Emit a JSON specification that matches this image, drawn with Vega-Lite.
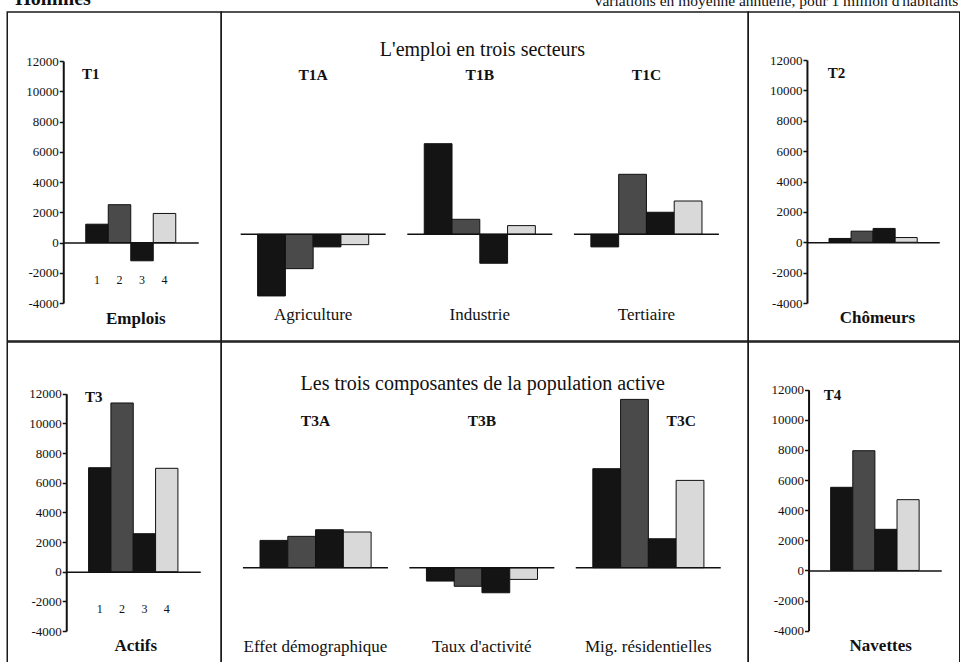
{
  "$schema": "https://vega.github.io/schema/vega-lite/v6.json",
  "background": "white",
  "padding": {"left": 6.25, "top": 0, "right": 0, "bottom": 0},
  "spacing": -1.5,
  "config": {
    "view": {"stroke": "#1a1a1a", "strokeWidth": 1.5},
    "font": "Liberation Serif",
    "concat": {"spacing": 0},
    "axis": {"labelFont": "Liberation Serif", "titleFont": "Liberation Serif", "labelColor": "#111", "titleColor": "#111", "domainColor": "#111", "tickColor": "#111", "grid": false},
    "bar": {"stroke": "#111", "strokeWidth": 1},
    "text": {"font": "Liberation Serif", "color": "#111"}
  },
  "vconcat": [
    {
      "width": 953, "height": 11.75,
      "view": {"stroke": null},
      "data": {"values": [
        {"side": "left", "label": "Hommes"},
        {"side": "right", "label": "Variations en moyenne annuelle, pour 1 million d'habitants"}
      ]},
      "layer": [
        {
          "transform": [{"filter": "datum.side == 'left'"}],
          "mark": {"type": "text", "align": "left", "baseline": "alphabetic", "font": "Liberation Serif", "fontSize": 20, "fontWeight": "bold", "clip": true, "dy": -1},
          "encoding": {
            "x": {"field": "side", "type": "nominal", "scale": {"type": "point", "domain": ["left", "right"], "range": [8, 951], "padding": 0}, "axis": null},
            "text": {"field": "label"}
          }
        },
        {
          "transform": [{"filter": "datum.side == 'right'"}],
          "mark": {"type": "text", "align": "right", "baseline": "alphabetic", "font": "Liberation Serif", "fontSize": 15.5, "clip": true, "dy": 0},
          "encoding": {
            "x": {"field": "side", "type": "nominal", "axis": null},
            "text": {"field": "label"}
          }
        }
      ]
    },
    {
      "hconcat": [
        {
          "width": 214, "height": 329,
          "data": {"values": [
            {"bar": "1", "value": 1210}, {"bar": "2", "value": 2500}, {"bar": "3", "value": -1210}, {"bar": "4", "value": 1920}
          ]},
          "mark": {"type": "bar"},
          "encoding": {
            "x": {"field": "bar", "type": "nominal",
              "scale": {"range": [56, 191], "paddingInner": 0, "paddingOuter": 1.5},
              "axis": {"orient": "bottom", "offset": -98.5, "domainWidth": 1.5, "ticks": false, "labelAngle": 0, "labelPadding": 36.5, "labelBaseline": "middle", "labelFont": "Liberation Serif", "labelFontSize": 12,
                "title": "Emplois", "titleX": 128, "titleY": 75.5, "titleBaseline": "middle", "titleAlign": "center", "titleAnchor": null, "titleFont": "Liberation Serif", "titleFontSize": 17, "titleFontWeight": "bold"}},
            "y": {"field": "value", "type": "quantitative",
              "scale": {"domain": [-4000, 12000], "range": [291, 49], "nice": false},
              "axis": {"orient": "left", "offset": -56, "values": [-4000, -2000, 0, 2000, 4000, 6000, 8000, 10000, 12000], "labelExpr": "'' + datum.value", "tickSize": 4, "tickWidth": 1.5, "domainWidth": 2, "labelPadding": 1, "labelFont": "Liberation Serif", "labelFontSize": 13,
                "title": "T1", "titleAngle": 0, "titleX": 27, "titleY": 61.7, "titleAlign": "center", "titleBaseline": "middle", "titleFont": "Liberation Serif", "titleFontSize": 15, "titleFontWeight": "bold"}},
            "color": {"field": "bar", "type": "nominal", "scale": {"domain": ["1", "2", "3", "4"], "range": ["#141414", "#4a4a4a", "#141414", "#d9d9d9"]}, "legend": null}
          }
        },
        {
          "width": 527, "height": 329,
          "layer": [
            {
              "data": {"values": [
                {"sector": "Agriculture", "bar": "1", "value": -4110},
                {"sector": "Agriculture", "bar": "2", "value": -2290},
                {"sector": "Agriculture", "bar": "3", "value": -840},
                {"sector": "Agriculture", "bar": "4", "value": -690},
                {"sector": "Industrie", "bar": "1", "value": 6040},
                {"sector": "Industrie", "bar": "2", "value": 1000},
                {"sector": "Industrie", "bar": "3", "value": -1930},
                {"sector": "Industrie", "bar": "4", "value": 580},
                {"sector": "Tertiaire", "bar": "1", "value": -840},
                {"sector": "Tertiaire", "bar": "2", "value": 4000},
                {"sector": "Tertiaire", "bar": "3", "value": 1470},
                {"sector": "Tertiaire", "bar": "4", "value": 2220}
              ]},
              "mark": {"type": "bar"},
              "encoding": {
                "x": {"field": "sector", "type": "nominal",
                  "scale": {"domain": ["Agriculture", "Industrie", "Tertiaire"], "range": [8.6, 508.5], "paddingInner": 0, "paddingOuter": 0},
                  "axis": {"orient": "bottom", "offset": -27, "domain": false, "ticks": false, "labelAngle": 0, "labelPadding": 0, "labelBaseline": "middle", "labelFont": "Liberation Serif", "labelFontSize": 17, "title": null}},
                "xOffset": {"field": "bar", "type": "nominal", "scale": {"paddingInner": 0, "paddingOuter": 2}},
                "y": {"field": "value", "type": "quantitative", "scale": {"domain": [-4000, 12000], "range": [282.3, 42.3], "nice": false}, "axis": null},
                "color": {"field": "bar", "type": "nominal", "legend": null}
              }
            },
            {
              "data": {"values": [{"sector": "Agriculture"}, {"sector": "Industrie"}, {"sector": "Tertiaire"}]},
              "mark": {"type": "tick", "size": 145, "thickness": 1.5, "color": "#111", "opacity": 1},
              "encoding": {
                "x": {"field": "sector", "type": "nominal",
                  "axis": {"orient": "top", "offset": -62, "domain": false, "ticks": false, "labelAngle": 0, "labelPadding": 0, "labelBaseline": "middle", "labelFont": "Liberation Serif", "labelFontSize": 15.5, "labelFontWeight": "bold",
                    "labelExpr": "datum.value == 'Agriculture' ? 'T1A' : datum.value == 'Industrie' ? 'T1B' : 'T1C'",
                    "title": "L'emploi en trois secteurs", "titleX": 260.7, "titleY": -25, "titleBaseline": "middle", "titleAlign": "center", "titleAnchor": null, "titleFont": "Liberation Serif", "titleFontSize": 20, "titleFontWeight": "normal"}},
                "y": {"datum": 0, "type": "quantitative"}
              }
            }
          ],
          "resolve": {"axis": {"x": "independent"}}
        },
        {
          "width": 211.5, "height": 329,
          "data": {"values": [
            {"bar": "1", "value": 250}, {"bar": "2", "value": 730}, {"bar": "3", "value": 910}, {"bar": "4", "value": 310}
          ]},
          "mark": {"type": "bar"},
          "encoding": {
            "x": {"field": "bar", "type": "nominal",
              "scale": {"range": [58.7, 191], "paddingInner": 0, "paddingOuter": 1.42},
              "axis": {"orient": "bottom", "offset": -98.75, "domainWidth": 1.5, "ticks": false, "labels": false,
                "title": "Chômeurs", "titleX": 128.7, "titleY": 74.75, "titleBaseline": "middle", "titleAlign": "center", "titleAnchor": null, "titleFont": "Liberation Serif", "titleFontSize": 17, "titleFontWeight": "bold"}},
            "y": {"field": "value", "type": "quantitative",
              "scale": {"domain": [-4000, 12000], "range": [291, 48], "nice": false},
              "axis": {"orient": "left", "offset": -58.7, "values": [-4000, -2000, 0, 2000, 4000, 6000, 8000, 10000, 12000], "labelExpr": "'' + datum.value", "tickSize": 4, "tickWidth": 1.5, "domainWidth": 2, "labelPadding": 1, "labelFont": "Liberation Serif", "labelFontSize": 13,
                "title": "T2", "titleAngle": 0, "titleX": 29, "titleY": 60.7, "titleAlign": "center", "titleBaseline": "middle", "titleFont": "Liberation Serif", "titleFontSize": 15, "titleFontWeight": "bold"}},
            "color": {"field": "bar", "type": "nominal", "legend": null}
          }
        }
      ],
      "bounds": "flush",
      "spacing": 0
    },
    {
      "hconcat": [
        {
          "width": 214, "height": 321.25,
          "data": {"values": [
            {"bar": "1", "value": 7010}, {"bar": "2", "value": 11375}, {"bar": "3", "value": 2560}, {"bar": "4", "value": 6970}
          ]},
          "mark": {"type": "bar"},
          "encoding": {
            "x": {"field": "bar", "type": "nominal",
              "scale": {"range": [59, 193], "paddingInner": 0, "paddingOuter": 1.44},
              "axis": {"orient": "bottom", "offset": -91.55, "domainWidth": 1.5, "ticks": false, "labelAngle": 0, "labelPadding": 37, "labelBaseline": "middle", "labelFont": "Liberation Serif", "labelFontSize": 12,
                "title": "Actifs", "titleX": 128, "titleY": 73.3, "titleBaseline": "middle", "titleAlign": "center", "titleAnchor": null, "titleFont": "Liberation Serif", "titleFontSize": 17, "titleFontWeight": "bold"}},
            "y": {"field": "value", "type": "quantitative",
              "scale": {"domain": [-4000, 12000], "range": [289, 51.7], "nice": false},
              "axis": {"orient": "left", "offset": -59, "values": [-4000, -2000, 0, 2000, 4000, 6000, 8000, 10000, 12000], "labelExpr": "'' + datum.value", "tickSize": 4, "tickWidth": 1.5, "domainWidth": 2, "labelPadding": 1, "labelFont": "Liberation Serif", "labelFontSize": 13,
                "title": "T3", "titleAngle": 0, "titleX": 27, "titleY": 54, "titleAlign": "center", "titleBaseline": "middle", "titleFont": "Liberation Serif", "titleFontSize": 15, "titleFontWeight": "bold"}},
            "color": {"field": "bar", "type": "nominal", "legend": null}
          }
        },
        {
          "width": 527, "height": 321.25,
          "layer": [
            {
              "data": {"values": [
                {"sector": "Effet démographique", "bar": "1", "value": 1820},
                {"sector": "Effet démographique", "bar": "2", "value": 2090},
                {"sector": "Effet démographique", "bar": "3", "value": 2530},
                {"sector": "Effet démographique", "bar": "4", "value": 2380},
                {"sector": "Taux d'activité", "bar": "1", "value": -890},
                {"sector": "Taux d'activité", "bar": "2", "value": -1240},
                {"sector": "Taux d'activité", "bar": "3", "value": -1670},
                {"sector": "Taux d'activité", "bar": "4", "value": -780},
                {"sector": "Mig. résidentielles", "bar": "1", "value": 6600},
                {"sector": "Mig. résidentielles", "bar": "2", "value": 11220},
                {"sector": "Mig. résidentielles", "bar": "3", "value": 1930},
                {"sector": "Mig. résidentielles", "bar": "4", "value": 5820}
              ]},
              "mark": {"type": "bar"},
              "encoding": {
                "x": {"field": "sector", "type": "nominal",
                  "scale": {"domain": ["Effet démographique", "Taux d'activité", "Mig. résidentielles"], "range": [11, 510.2], "paddingInner": 0, "paddingOuter": 0},
                  "axis": {"orient": "bottom", "offset": -17.25, "domain": false, "ticks": false, "labelAngle": 0, "labelPadding": 0, "labelBaseline": "middle", "labelFont": "Liberation Serif", "labelFontSize": 17, "title": null}},
                "xOffset": {"field": "bar", "type": "nominal", "scale": {"paddingInner": 0, "paddingOuter": 2}},
                "y": {"field": "value", "type": "quantitative", "scale": {"domain": [-4000, 12000], "range": [285.7, 45.7], "nice": false}, "axis": null},
                "color": {"field": "bar", "type": "nominal", "legend": null}
              }
            },
            {
              "data": {"values": [{"sector": "Effet démographique"}, {"sector": "Taux d'activité"}, {"sector": "Mig. résidentielles"}]},
              "mark": {"type": "tick", "size": 145, "thickness": 1.5, "color": "#111", "opacity": 1},
              "encoding": {
                "x": {"field": "sector", "type": "nominal",
                  "axis": {"orient": "top", "offset": -78, "domain": false, "ticks": false, "labelAngle": 0, "labelPadding": 0, "labelBaseline": "middle", "labelFont": "Liberation Serif", "labelFontSize": 15.5, "labelFontWeight": "bold",
                    "labelOffset": {"condition": {"test": "datum.value == 'Mig. résidentielles'", "value": 33}, "value": 0},
                    "labelExpr": "datum.value == 'Effet démographique' ? 'T3A' : datum.value == 'Taux d\\'activité' ? 'T3B' : 'T3C'",
                    "title": "Les trois composantes de la population active", "titleX": 261, "titleY": -37, "titleBaseline": "middle", "titleAlign": "center", "titleAnchor": null, "titleFont": "Liberation Serif", "titleFontSize": 20, "titleFontWeight": "normal"}},
                "y": {"datum": 0, "type": "quantitative"}
              }
            }
          ],
          "resolve": {"axis": {"x": "independent"}}
        },
        {
          "width": 211.5, "height": 321.25,
          "data": {"values": [
            {"bar": "1", "value": 5520}, {"bar": "2", "value": 7950}, {"bar": "3", "value": 2730}, {"bar": "4", "value": 4700}
          ]},
          "mark": {"type": "bar"},
          "encoding": {
            "x": {"field": "bar", "type": "nominal",
              "scale": {"range": [60.3, 193], "paddingInner": 0, "paddingOuter": 1.46},
              "axis": {"orient": "bottom", "offset": -92.8, "domainWidth": 1.5, "ticks": false, "labels": false,
                "title": "Navettes", "titleX": 132, "titleY": 75.5, "titleBaseline": "middle", "titleAlign": "center", "titleAnchor": null, "titleFont": "Liberation Serif", "titleFontSize": 17, "titleFontWeight": "bold"}},
            "y": {"field": "value", "type": "quantitative",
              "scale": {"domain": [-4000, 12000], "range": [288.7, 47.7], "nice": false},
              "axis": {"orient": "left", "offset": -60.3, "values": [-4000, -2000, 0, 2000, 4000, 6000, 8000, 10000, 12000], "labelExpr": "'' + datum.value", "tickSize": 4, "tickWidth": 1.5, "domainWidth": 2, "labelPadding": 1, "labelFont": "Liberation Serif", "labelFontSize": 13,
                "title": "T4", "titleAngle": 0, "titleX": 23.4, "titleY": 52, "titleAlign": "center", "titleBaseline": "middle", "titleFont": "Liberation Serif", "titleFontSize": 15, "titleFontWeight": "bold"}},
            "color": {"field": "bar", "type": "nominal", "legend": null}
          }
        }
      ],
      "bounds": "flush",
      "spacing": 0
    }
  ]
}
